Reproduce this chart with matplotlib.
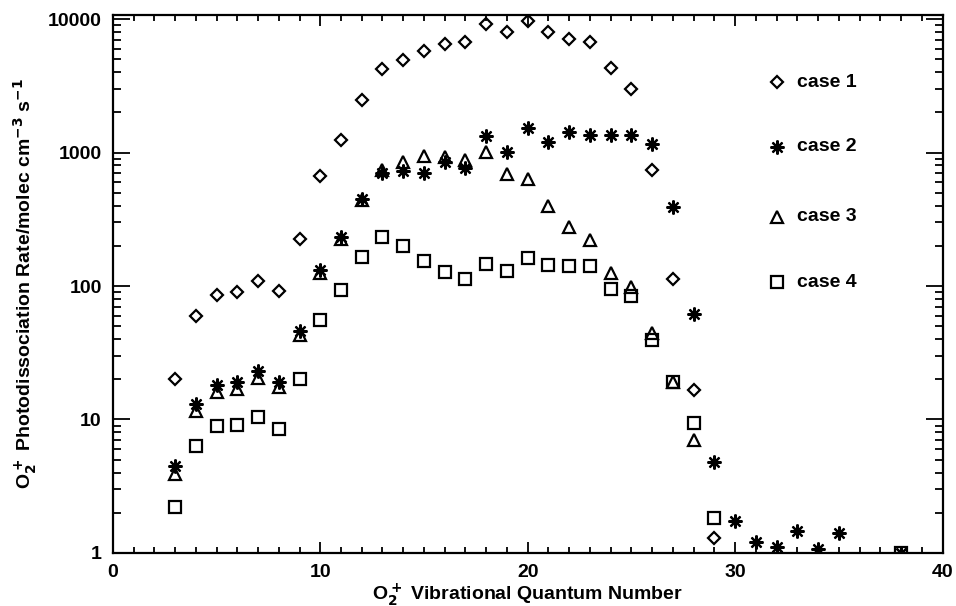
import numpy as np
import matplotlib
matplotlib.use("Agg")
import matplotlib.pyplot as plt
from matplotlib.ticker import FixedLocator, NullFormatter, LogLocator

plt.rcParams['font.family'] = ['Liberation Sans', 'DejaVu Sans']
plt.rcParams['font.weight'] = 'bold'
plt.rcParams['mathtext.default'] = 'bf'

# case 1 (diamonds)
x1 = [3, 4, 5, 6, 7, 8, 9, 10, 11, 12, 13, 14, 15, 16, 17, 18, 19, 20,
      21, 22, 23, 24, 25, 26, 27, 28, 29]
y1 = [20, 60, 85, 90, 109, 92, 225, 667, 1240, 2470, 4220, 4930, 5760, 6500,
      6730, 9180, 7950, 9660, 7950, 7090, 6730, 4300, 2990, 740, 113, 16.6, 1.3]

# case 2 (asterisks)
x2 = [3, 4, 5, 6, 7, 8, 9, 10, 11, 12, 13, 14, 15, 16, 17, 18, 19, 20,
      21, 22, 23, 24, 25, 26, 27, 28, 29, 30, 31, 32, 33, 34, 35, 38]
y2 = [4.5, 13.1, 18.1, 19.1, 23.1, 19.1, 46, 132, 233, 449, 702, 727, 702,
      849, 765, 1330, 1010, 1530, 1200, 1425, 1350, 1350, 1350, 1160, 391,
      61.7, 4.8, 1.74, 1.21, 1.11, 1.46, 1.07, 1.41, 1.0]

# case 3 (triangles)
x3 = [3, 4, 5, 6, 7, 8, 9, 10, 11, 12, 13, 14, 15, 16, 17, 18, 19, 20,
      21, 22, 23, 24, 25, 26, 27, 28]
y3 = [3.9, 11.6, 16.1, 16.9, 20.5, 17.5, 43, 125, 225, 440, 740, 849, 942,
      925, 880, 1010, 690, 630, 398, 277, 221, 125, 98, 44.5, 19.1, 7.0]

# case 4 (squares)
x4 = [3, 4, 5, 6, 7, 8, 9, 10, 11, 12, 13, 14, 15, 16, 17, 18, 19, 20,
      21, 22, 23, 24, 25, 26, 27, 28, 29, 38]
y4 = [2.2, 6.3, 8.9, 9.1, 10.4, 8.5, 20.1, 55.6, 93, 165, 233, 199, 154,
      127, 113, 146, 129, 162, 144, 141, 141, 95, 84, 39.4, 19.1, 9.4, 1.83,
      1.0]

labels = ['case 1', 'case 2', 'case 3', 'case 4']

fig = plt.figure(figsize=(9.56, 6.06), dpi=100)
ax = fig.add_axes([0.118, 0.0875, 0.868, 0.8875])

mk = dict(linestyle='none', markerfacecolor='none', markeredgecolor='black',
          markeredgewidth=1.6, color='black')
ax.plot(x1, y1, marker='D', markersize=6.5, **mk)
ax.plot(x2, y2, marker=(8, 2, 0), markersize=10, **mk)
ax.plot(x3, y3, marker='^', markersize=9, **mk)
ax.plot(x4, y4, marker='s', markersize=8.5, **mk)

ax.set_yscale('log')
ax.set_xlim(0, 40)
ax.set_ylim(1, 10700)

ax.set_xticks([0, 10, 20, 30, 40])
ax.xaxis.set_minor_locator(FixedLocator(np.arange(0, 41, 1)))
ax.set_yticks([1, 10, 100, 1000, 10000])
ax.set_yticklabels(['1', '10', '100', '1000', '10000'])
ax.yaxis.set_minor_locator(LogLocator(base=10, subs=np.arange(2, 10)))
ax.yaxis.set_minor_formatter(NullFormatter())

ax.tick_params(which='both', direction='in', top=True, right=True,
               width=1.3, labelsize=14)
ax.tick_params(axis='x', which='major', length=8, pad=8)
ax.tick_params(axis='x', which='minor', length=4)
ax.tick_params(axis='y', which='major', length=12, pad=8)
ax.tick_params(axis='y', which='minor', length=6)
for s in ax.spines.values():
    s.set_linewidth(1.6)

ax.set_xlabel(r"O$_2^+$ Vibrational Quantum Number", fontsize=14,
              fontweight='bold', labelpad=0)
ax.set_ylabel(r"O$_2^+$ Photodissociation Rate/molec cm$^{-3}$ s$^{-1}$",
              fontsize=14, fontweight='bold', labelpad=6)

# legend drawn as markers with text, as in the original
leg_markers = ['D', (8, 2, 0), '^', 's']
leg_sizes = [6.5, 10, 9, 8.5]
leg_y = [0.875, 0.755, 0.625, 0.503]
for m, ms, lab, yy in zip(leg_markers, leg_sizes, labels, leg_y):
    ax.plot([0.8], [yy], marker=m, markersize=ms, transform=ax.transAxes,
            clip_on=False, **mk)
    ax.text(0.825, yy, lab, transform=ax.transAxes, fontsize=14,
            fontweight='heavy', va='center', ha='left')

fig.savefig('out.png', dpi=100)
